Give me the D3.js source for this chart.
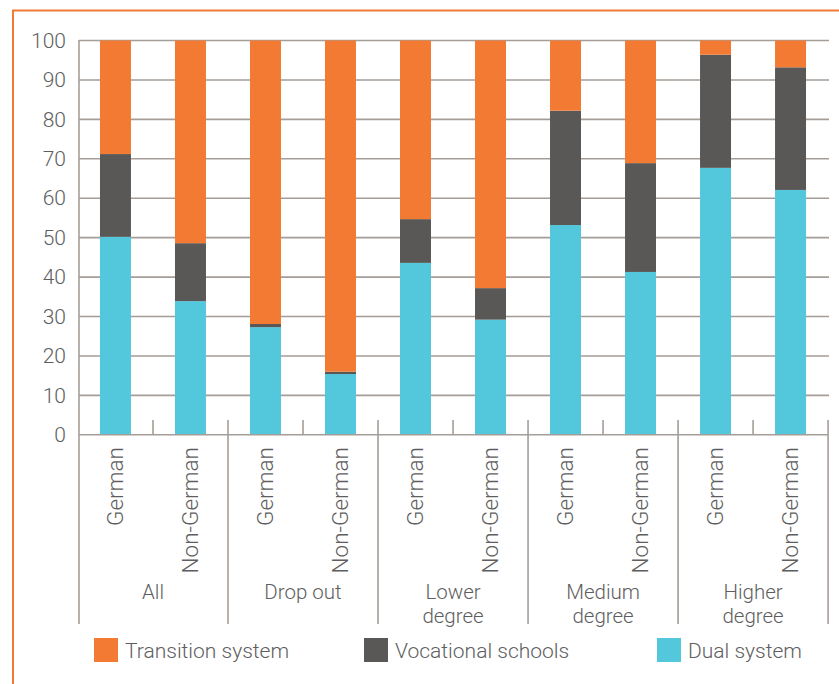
<!DOCTYPE html>
<html><head><meta charset="utf-8">
<script src="https://cdn.jsdelivr.net/npm/d3@7"></script>
<style>
html,body{margin:0;padding:0;background:#fff;}
svg{display:block;}
text{font-family:"Roboto","Helvetica Neue",Arial,sans-serif;font-weight:300;fill:#5e5e5e;}
</style></head>
<body>
<svg id="c" width="839" height="684"></svg>
<script>
const groups = ["All", "Drop out", "Lower degree", "Medium degree", "Higher degree"];
const groupLines = [["All"], ["Drop out"], ["Lower", "degree"], ["Medium", "degree"], ["Higher", "degree"]];
const nationalities = ["German", "Non-German"];
const dualSystem = [50.2, 33.9, 27.3, 15.4, 43.6, 29.2, 53.2, 41.3, 67.7, 62.1];
const vocationalSchools = [21.0, 14.7, 0.8, 0.6, 11.1, 8.0, 29.0, 27.6, 28.7, 31.1];
const transitionSystem = [28.8, 51.4, 71.9, 84.0, 45.3, 62.8, 17.8, 31.1, 3.6, 6.8];
const yTicks = [0, 10, 20, 30, 40, 50, 60, 70, 80, 90, 100];
const seriesNames = ["Dual system", "Vocational schools", "Transition system"];
const legendOrder = ["Transition system", "Vocational schools", "Dual system"];
const colors = {"Transition system": "#f37a32", "Vocational schools": "#5a5856", "Dual system": "#53c7dc"};

const svg = d3.select("#c");
const gridCol = "#a59d97";

// frame
svg.append("path").attr("d", "M13,684 L13,10.5 L839,10.5")
  .attr("fill", "none").attr("stroke", "#f37a32").attr("stroke-width", 2);

const keys = [];
groups.forEach((g, gi) => nationalities.forEach(n => keys.push(gi + "|" + n)));
const rows = keys.map((k, i) => ({
  key: k,
  "Dual system": dualSystem[i],
  "Vocational schools": vocationalSchools[i],
  "Transition system": transitionSystem[i]
}));

const x = d3.scaleBand().domain(keys).range([78, 828]).paddingInner(0.587).paddingOuter(0.293);
const y = d3.scaleLinear().domain([0, 100]).range([434.8, 40.5]);

// gridlines
svg.append("g").selectAll("line").data(yTicks.filter(t => t > 0)).join("line")
  .attr("x1", 79).attr("x2", 829)
  .attr("y1", d => y(d)).attr("y2", d => y(d))
  .attr("stroke", gridCol).attr("stroke-width", 1.6);

// y axis
const yAxis = d3.axisLeft(y).tickValues(yTicks).tickSize(0).tickPadding(13);
const ya = svg.append("g").attr("transform", "translate(79,0)").call(yAxis);
ya.select(".domain").remove();
ya.selectAll("text").attr("font-size", 21).attr("fill", "#5e5e5e")
  .style("font-family", '"Roboto","Helvetica Neue",Arial,sans-serif').style("font-weight", 300);

// bars
const stack = d3.stack().keys(seriesNames)(rows);
svg.append("g").selectAll("g").data(stack).join("g")
  .attr("fill", d => colors[d.key])
  .selectAll("rect").data(d => d).join("rect")
  .attr("x", d => x(d.data.key))
  .attr("width", x.bandwidth())
  .attr("y", d => y(d[1]))
  .attr("height", d => y(d[0]) - y(d[1]));

// category axis
const step = x.step();
const x0 = 78;
const ax = svg.append("g");
ax.append("line").attr("x1", 79).attr("x2", 828).attr("y1", y(0)).attr("y2", y(0))
  .attr("stroke", gridCol).attr("stroke-width", 1.6);
ax.append("line").attr("x1", 79).attr("x2", 79).attr("y1", 40).attr("y2", 624)
  .attr("stroke", gridCol).attr("stroke-width", 1.6);
const bounds = d3.range(1, keys.length + 1);
ax.selectAll("line.b").data(bounds).join("line").attr("class", "b")
  .attr("x1", i => x0 + i * step).attr("x2", i => x0 + i * step)
  .attr("y1", 420).attr("y2", i => i % 2 === 0 ? 624 : y(0))
  .attr("stroke", gridCol).attr("stroke-width", 1.6);

// rotated nationality labels
svg.append("g").selectAll("text").data(keys).join("text")
  .attr("transform", k => `translate(${x(k) + x.bandwidth() / 2 + 7.5},447) rotate(-90)`)
  .attr("text-anchor", "end").attr("font-size", 22.5)
  .text(k => k.split("|")[1]);

// group labels (one text per line)
const glData = [];
groupLines.forEach((lines, i) => lines.forEach((t, j) => glData.push({t, i, j})));
svg.append("g").selectAll("text").data(glData).join("text")
  .attr("text-anchor", "middle").attr("font-size", 20.5)
  .attr("x", d => x0 + (2 * d.i + 1) * step)
  .attr("y", d => 599 + d.j * 24)
  .text(d => d.t);

// legend
const legX = [94, 364, 657];
const lg = svg.append("g").selectAll("g").data(legendOrder).join("g")
  .attr("transform", (d, i) => `translate(${legX[i]},638)`);
lg.append("rect").attr("width", 24).attr("height", 24).attr("fill", d => colors[d]);
lg.append("text").attr("x", 31).attr("y", 19.5).attr("font-size", 21).text(d => d);
</script>
</body></html>
